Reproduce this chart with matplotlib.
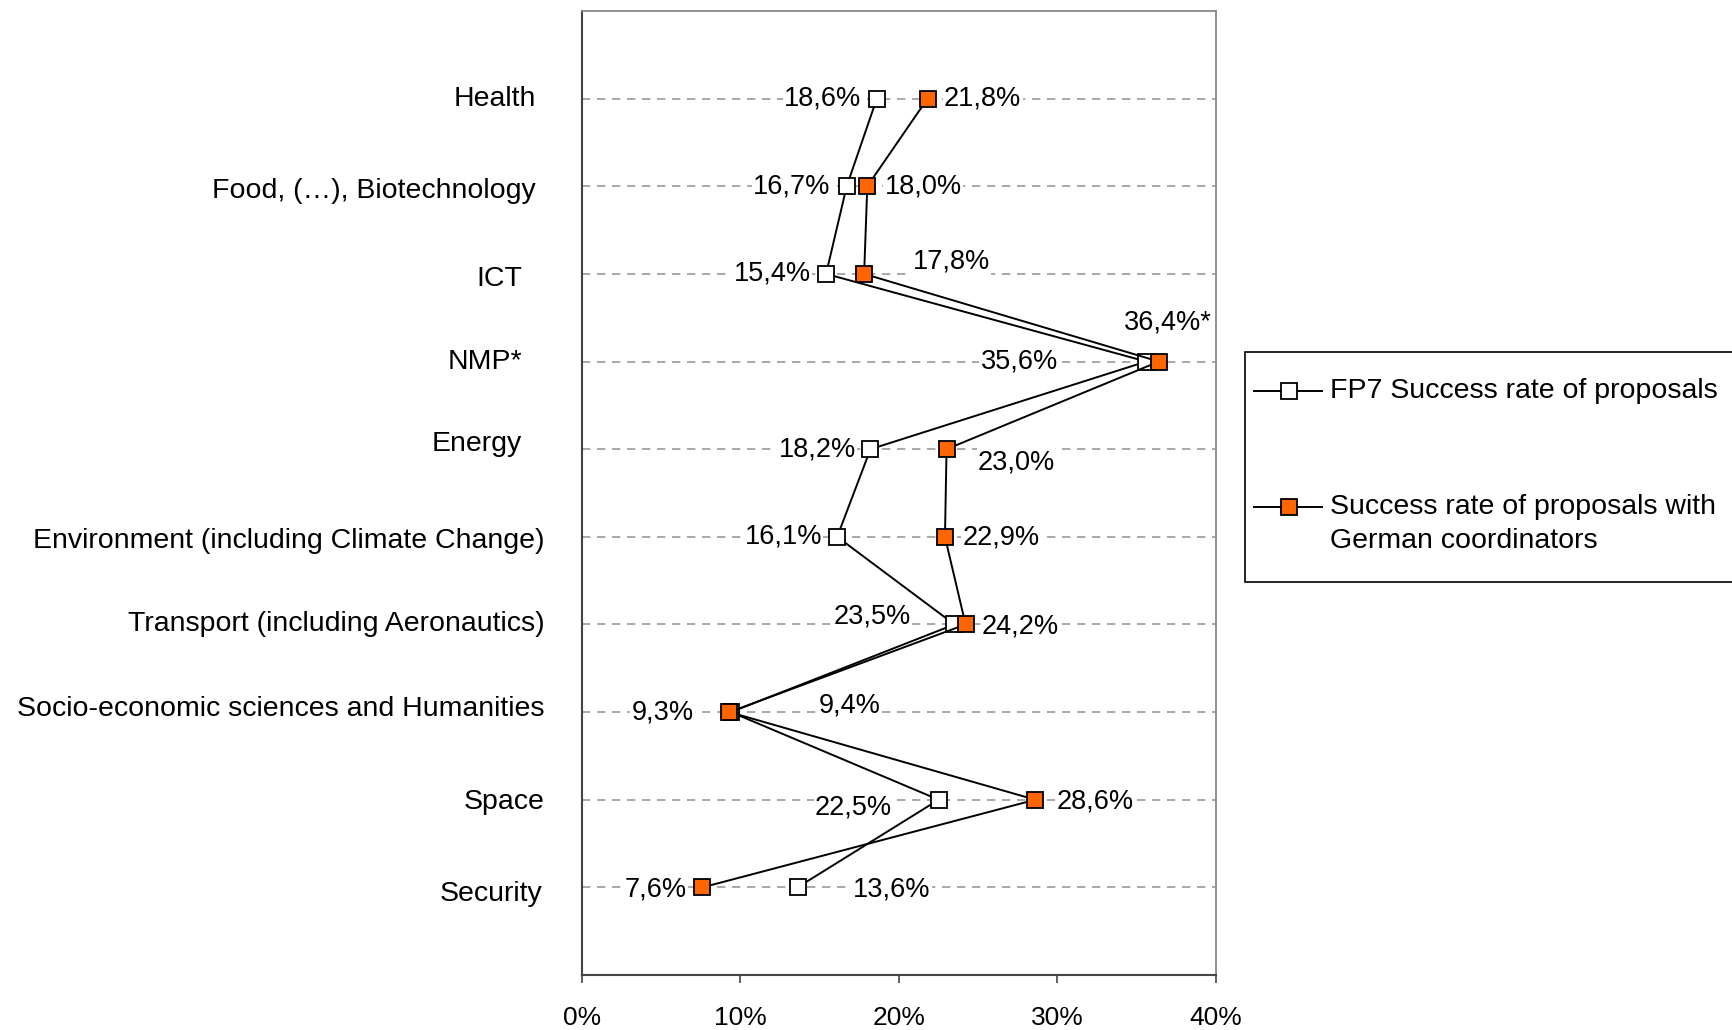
import numpy as np
import matplotlib.pyplot as plt
from matplotlib.lines import Line2D
from matplotlib.patches import Rectangle
from matplotlib.ticker import FuncFormatter

plt.rcParams['font.family'] = ['Liberation Sans', 'DejaVu Sans']

# Categories (top to bottom) and success rates in percent
categories = ['Health', 'Food, (…), Biotechnology', 'ICT', 'NMP*', 'Energy',
              'Environment (including Climate Change)',
              'Transport (including Aeronautics)',
              'Socio-economic sciences and Humanities', 'Space', 'Security']
fp7_rate = [18.6, 16.7, 15.4, 35.6, 18.2, 16.1, 23.5, 9.4, 22.5, 13.6]
german_rate = [21.8, 18.0, 17.8, 36.4, 23.0, 22.9, 24.2, 9.3, 28.6, 7.6]
fp7_text = ['18,6%', '16,7%', '15,4%', '35,6%', '18,2%', '16,1%', '23,5%', '9,4%', '22,5%', '13,6%']
german_text = ['21,8%', '18,0%', '17,8%', '36,4%*', '23,0%', '22,9%', '24,2%', '9,3%', '28,6%', '7,6%']
series_names = ['FP7 Success rate of proposals',
                ['Success rate of proposals with', 'German coordinators']]

# label offsets from the marker, in pixels (dx, dy; dy positive = up)
fp7_offsets = [(-54, 0), (-55, 0), (-54, 0), (-127, 0), (-53, 0), (-54, 0),
               (-82, 8), (119, 7), (-85, -8), (94, -2)]
german_offsets = [(55, 0), (56, 0), (87, 12), (9, 39), (70, -13), (56, -1),
                  (55, -2), (-67, 0), (60, -2), (-47, -2)]
# category label offsets from the left spine, in pixels
cat_offsets = [(-46, 0), (-46, -5), (-60, -5), (-60, 0), (-60, 5), (-37, -4),
               (-37, 0), (-37, 3), (-37, -2), (-40, -7)]

orange = '#FF6600'
fs_cat = 20.5
fs_num = 19.5
W, H = 1733, 1030

fig = plt.figure(figsize=(W / 100, H / 100), dpi=100)
ax = fig.add_axes([582 / W, 1 - 975 / H, 634 / W, 964 / H])

y = np.arange(1, len(categories) + 1)

for yy in y:
    ax.axhline(yy, color='#999999', lw=1.2, ls=(0, (5, 4)), zorder=0)

ax.plot(fp7_rate, y, color='black', lw=1.4, marker='s', markersize=12,
        markerfacecolor='white', markeredgecolor='black', markeredgewidth=1.3,
        zorder=3)
ax.plot(german_rate, y, color='black', lw=1.4, marker='s', markersize=12,
        markerfacecolor=orange, markeredgecolor='black', markeredgewidth=1.3,
        zorder=4)

for xv, yv, t, (dx, dy) in zip(fp7_rate, y, fp7_text, fp7_offsets):
    ax.annotate(t, (xv, yv), xytext=(dx, dy), textcoords='offset pixels',
                ha='center', va='center', fontsize=fs_num, zorder=5,
                bbox=dict(facecolor='white', edgecolor='none', pad=1))
for xv, yv, t, (dx, dy) in zip(german_rate, y, german_text, german_offsets):
    ax.annotate(t, (xv, yv), xytext=(dx, dy), textcoords='offset pixels',
                ha='center', va='center', fontsize=fs_num, zorder=5,
                bbox=dict(facecolor='white', edgecolor='none', pad=1))

# category labels, right aligned left of the plot
for yv, t, (dx, dy) in zip(y, categories, cat_offsets):
    ax.annotate(t, (0, yv), xycoords=('axes fraction', 'data'),
                xytext=(dx, dy), textcoords='offset pixels',
                ha='right', va='center', fontsize=fs_cat, annotation_clip=False)

ax.set_xlim(0, 40)
ax.set_ylim(11, 0)
ax.set_xticks([0, 10, 20, 30, 40])
ax.xaxis.set_major_formatter(FuncFormatter(lambda v, p: f'{v:.0f}%'))
ax.set_yticks([])
ax.tick_params(axis='x', length=6, width=1.2, color='#444444', pad=16, labelsize=19)

for side in ['top', 'right']:
    ax.spines[side].set_color('#888888')
    ax.spines[side].set_linewidth(1.3)
for side in ['left', 'bottom']:
    ax.spines[side].set_color('#444444')
    ax.spines[side].set_linewidth(1.5)

# legend box, drawn by hand so the handles line up with the first text line
fig.add_artist(Rectangle((1245 / W, 1 - 582 / H), 0.4, 230 / H,
                         transform=fig.transFigure, facecolor='white',
                         edgecolor='black', lw=1.2))
legend_styles = [dict(markerfacecolor='white'), dict(markerfacecolor=orange)]
legend_y = [391, 507]
for name, style, ly in zip(series_names, legend_styles, legend_y):
    yf = 1 - ly / H
    fig.add_artist(Line2D([1254 / W, 1289 / W, 1322 / W], [yf, yf, yf],
                          transform=fig.transFigure, color='black', lw=1.4,
                          marker='s', markersize=11, markevery=[1],
                          markeredgecolor='black', markeredgewidth=1.3, **style))
    lines = name if isinstance(name, list) else [name]
    for i, line in enumerate(lines):
        fig.text(1330 / W, 1 - (ly + 34 * i) / H, line, ha='left', va='center',
                 fontsize=fs_cat)

fig.savefig('out.png', dpi=100)
